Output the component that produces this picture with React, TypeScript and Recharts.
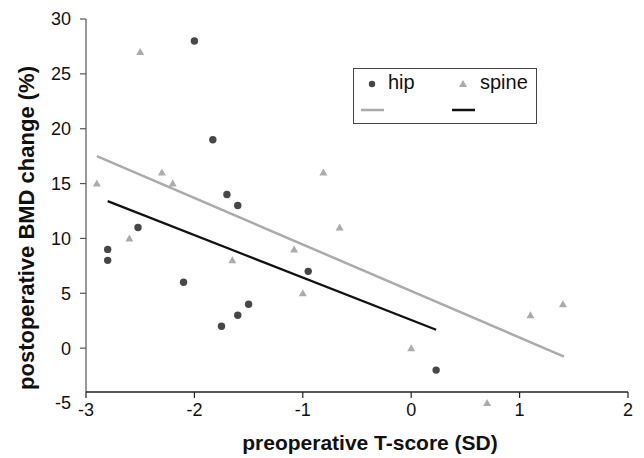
import { ComposedChart, Scatter, XAxis, YAxis, ReferenceLine, Label } from "recharts";

// hip points: [T-score, BMD change %]
const hipX = [-2.0, -1.83, -1.7, -1.6, -2.52, -2.8, -2.8, -0.95, -2.1, -1.5, -1.6, -1.75, 0.23];
const hipY = [28, 19, 14, 13, 11, 9, 8, 7, 6, 4, 3, 2, -2];

const spineX = [-2.5, -2.9, -2.3, -2.2, -0.81, -2.6, -1.65, -0.66, -1.08, -1.0, 0, 1.1, 1.4, 0.7];
const spineY = [27, 15, 16, 15, 16, 10, 8, 11, 9, 5, 0, 3, 4, -5];

// fitted lines, end points
const hipFitX = [-2.8, 0.23];
const hipFitY = [13.4, 1.67];
const spineFitX = [-2.9, 1.41];
const spineFitY = [17.5, -0.77];

const xTicks = [-3, -2, -1, 0, 1, 2];
const yTicks = [-5, 0, 5, 10, 15, 20, 25, 30];

const FONT = "'Liberation Sans', Arial, Helvetica, sans-serif";
const HIP_COLOR = "#474747";
const SPINE_COLOR = "#ababab";
const FIT_DARK = "#111111";

const zip = (xs: number[], ys: number[]) => xs.map((x, i) => ({ x, y: ys[i] }));
const hipData = zip(hipX, hipY);
const spineData = zip(spineX, spineY);
const hipFit = zip(hipFitX, hipFitY);
const spineFit = zip(spineFitX, spineFitY);

const Dot = (p: any) => <circle cx={p.cx} cy={p.cy} r={3.7} fill={HIP_COLOR} />;
const Tri = (p: any) => (
  <path d={`M${p.cx},${p.cy - 4} L${p.cx + 4},${p.cy + 3} L${p.cx - 4},${p.cy + 3} Z`} fill={SPINE_COLOR} />
);
const NoShape = () => <g />;

const XTick = (p: any) => (
  <g>
    <line x1={p.x} x2={p.x} y1={p.y - 11} y2={p.y - 5} stroke="#222" strokeWidth={1.2} />
    <text x={p.x} y={p.y + 7} dy="0.36em" textAnchor="middle" fontSize={18} fontFamily={FONT} fill="#111">
      {p.payload.value}
    </text>
  </g>
);

const YTick = (p: any) => (
  <g>
    {p.payload.value !== -5 && (
      <line x1={p.x - 6} x2={p.x} y1={p.y} y2={p.y} stroke="#555" strokeWidth={1.2} />
    )}
    <text x={p.x - 15} y={p.y} dy="0.36em" textAnchor="end" fontSize={18} fontFamily={FONT} fill="#111">
      {p.payload.value}
    </text>
  </g>
);

const XTitle = (p: any) => {
  const vb = p.viewBox;
  return (
    <text x={vb.x + vb.width / 2 + 13} y={vb.y + 47} textAnchor="middle" fontSize={21} fontWeight="bold" fontFamily={FONT} fill="#111">
      preoperative T-score (SD)
    </text>
  );
};

const YTitle = (p: any) => {
  const vb = p.viewBox;
  const x = 26;
  const y = vb.y + vb.height / 2 + 17;
  return (
    <text x={x} y={y} transform={`rotate(-90, ${x}, ${y})`} textAnchor="middle" fontSize={22} fontWeight="bold" fontFamily={FONT} fill="#111">
      postoperative BMD change (%)
    </text>
  );
};

function LegendBox() {
  return (
    <svg width={184} height={56} style={{ position: "absolute", left: 345, top: 60 }}>
      <rect x={0.5} y={0.5} width={183} height={55} fill="#fff" stroke="#444" />
      <circle cx={19} cy={16} r={3.2} fill={HIP_COLOR} />
      <text x={35} y={21} fontSize={20} fontFamily={FONT} fill="#111">hip</text>
      <path d="M110,12 L114,19 L106,19 Z" fill={SPINE_COLOR} />
      <text x={127} y={21} fontSize={20} fontFamily={FONT} fill="#111">spine</text>
      <line x1={8} x2={31} y1={42} y2={42} stroke={SPINE_COLOR} strokeWidth={2.5} />
      <line x1={99} x2={122} y1={42} y2={42} stroke={FIT_DARK} strokeWidth={2.5} />
    </svg>
  );
}

export default function App() {
  return (
    <div style={{ position: "relative", width: 636, height: 450, fontFamily: FONT }}>
      <ComposedChart width={636} height={450} margin={{ top: 11, right: 16, left: 0, bottom: 0 }}>
        <XAxis
          type="number"
          dataKey="x"
          domain={[-3, 2]}
          ticks={xTicks}
          axisLine={false}
          tickLine={false}
          tickSize={0}
          tickMargin={0}
          height={55}
          tick={<XTick />}
        >
          <Label content={<XTitle />} />
        </XAxis>
        <YAxis
          type="number"
          dataKey="y"
          domain={[-5, 30]}
          ticks={yTicks}
          axisLine={false}
          tickLine={false}
          tickSize={0}
          tickMargin={0}
          width={78}
          tick={<YTick />}
        >
          <Label content={<YTitle />} />
        </YAxis>
        <ReferenceLine segment={[{ x: -3, y: -4 }, { x: -3, y: 30 }]} stroke="#777" strokeWidth={1.5} />
        <ReferenceLine segment={[{ x: -3, y: -4 }, { x: 2, y: -4 }]} stroke="#222" strokeWidth={1.5} />
        <Scatter data={spineFit} line={{ stroke: SPINE_COLOR, strokeWidth: 2.5 }} shape={NoShape} isAnimationActive={false} />
        <Scatter data={hipFit} line={{ stroke: FIT_DARK, strokeWidth: 2.2 }} shape={NoShape} isAnimationActive={false} />
        <Scatter data={spineData} shape={Tri} isAnimationActive={false} />
        <Scatter data={hipData} shape={Dot} isAnimationActive={false} />
      </ComposedChart>
      <LegendBox />
    </div>
  );
}
